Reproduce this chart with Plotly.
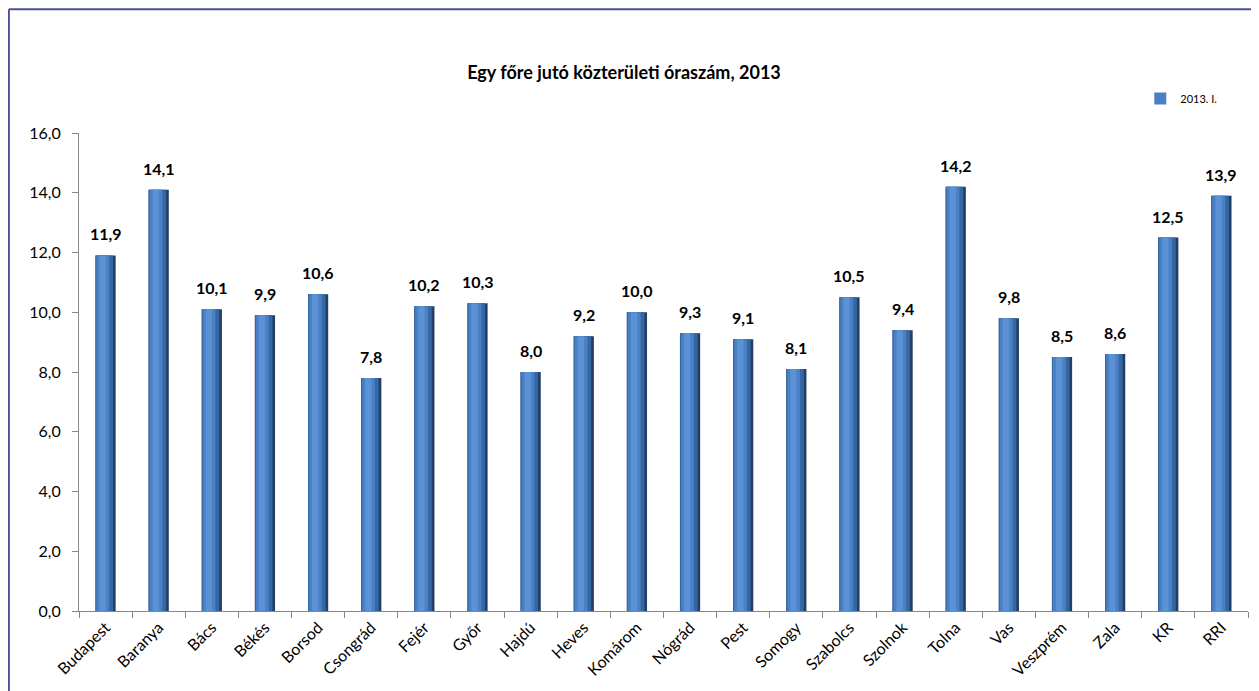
import plotly.graph_objects as go

# adatok
megyek = ["Budapest", "Baranya", "Bács", "Békés", "Borsod", "Csongrád", "Fejér",
          "Győr", "Hajdú", "Heves", "Komárom", "Nógrád", "Pest", "Somogy",
          "Szabolcs", "Szolnok", "Tolna", "Vas", "Veszprém", "Zala", "KR", "RRI"]
oraszam = [11.9, 14.1, 10.1, 9.9, 10.6, 7.8, 10.2, 10.3, 8.0, 9.2, 10.0,
           9.3, 9.1, 8.1, 10.5, 9.4, 14.2, 9.8, 8.5, 8.6, 12.5, 13.9]
sorozat = "2013. I."
cim = "Egy főre jutó közterületi óraszám, 2013"

FONT = "Lato"

fig = go.Figure()

# "henger" hatás: egymásra rajzolt, egyre keskenyebb oszlopok
retegek = [
    (0.38, 0.0, "#243f66", False),
    (0.33, -0.025, "#3567a3", False),
    (0.24, -0.05, "#4a80c4", True),
    (0.12, -0.055, "#5b92d6", False),
]
for w, eltol, szin, leg in retegek:
    fig.add_trace(go.Bar(
        x=megyek, y=oraszam, name=sorozat, showlegend=leg,
        width=w, offset=-0.19 + (0.38 - w) / 2 + eltol,
        marker=dict(color=szin, line=dict(width=0)),
        hoverinfo="x+y" if leg else "skip",
    ))

# adatcímkék
for m, v in zip(megyek, oraszam):
    fig.add_annotation(x=m, y=v, text=f"<b>{v:.1f}</b>".replace(".", ","),
                       showarrow=False, yanchor="bottom", yshift=10,
                       font=dict(family=FONT, size=16, color="black"))

# keret
fig.add_shape(type="line", xref="paper", yref="paper",
              x0=-0.06, x1=1.02, y0=1.259, y1=1.259,
              line=dict(color="#4a4f96", width=2))
fig.add_shape(type="line", xref="paper", yref="paper",
              x0=-0.06, x1=-0.06, y0=1.259, y1=-0.17,
              line=dict(color="#4a4f96", width=2))

fig.update_layout(
    width=1251, height=683,
    barmode="overlay",
    separators=", ",
    paper_bgcolor="white", plot_bgcolor="white",
    margin=dict(l=71, r=11, t=125, b=80),
    title=dict(text=f"<b>{cim}</b>", x=0.4924, xanchor="center", y=0.906,
               yanchor="middle", font=dict(family=FONT, size=18, color="black")),
    legend=dict(x=0.978, y=1.072, xanchor="right", yanchor="middle",
                font=dict(family=FONT, size=11, color="black"),
                itemwidth=30, bgcolor="rgba(0,0,0,0)"),
    font=dict(family=FONT, size=14, color="black"),
)
fig.update_yaxes(range=[0, 16], dtick=2, tickformat=".1f", automargin=False,
                 showgrid=False, zeroline=False,
                 showline=True, linecolor="#868686", linewidth=1,
                 ticks="outside", ticklen=6, tickcolor="#868686",
                 ticklabelstandoff=8,
                 tickfont=dict(family=FONT, size=16))
fig.update_xaxes(showgrid=False, showline=True, linecolor="#868686", linewidth=1,
                 automargin=False,
                 ticks="outside", ticklen=6, tickcolor="#868686",
                 tickson="boundaries", tickangle=-45,
                 tickfont=dict(family=FONT, size=16))

fig.write_html("out.html")
